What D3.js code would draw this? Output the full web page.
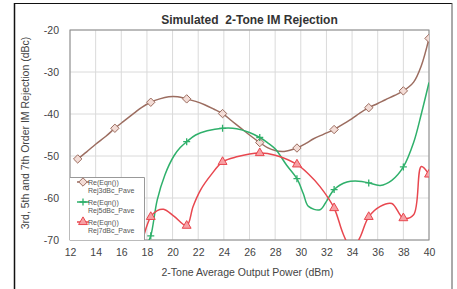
<!DOCTYPE html>
<html>
<head>
<meta charset="utf-8">
<script src="https://cdn.jsdelivr.net/npm/d3@7"></script>
<style>
  body { margin: 0; background: #fff; }
  svg { display: block; font-family: Arial, "Liberation Sans", sans-serif; }
</style>
</head>
<body>
<div id="chart"></div>
<script>
// simulated sweep (dBm, dBc)
const rej3Line = [[12.6,-50.7],[13.3,-49],[14,-47.2],[14.8,-45.3],[15.5,-43.4],[16.2,-41.7],[17,-39.8],[17.6,-38.4],[18.3,-37.2],[19,-36.4],[19.7,-35.9],[20.4,-35.9],[21.1,-36.4],[21.8,-37],[22.5,-37.8],[23.2,-38.8],[23.9,-39.9],[24.6,-41.6],[25.3,-43.3],[26,-45],[26.8,-46.8],[27.4,-48],[28,-48.7],[28.7,-48.9],[29.7,-48.1],[30.4,-47],[31,-45.9],[31.8,-44.8],[32.6,-43.7],[33.3,-42.4],[34,-41.1],[34.6,-39.8],[35.3,-38.5],[36,-37.5],[36.6,-36.6],[37.3,-35.6],[38,-34.5],[38.8,-32.4],[39.4,-28.5],[40,-22]];
const rej3Marks = [12.6,15.5,18.3,21.1,23.9,26.8,29.7,32.6,35.3,38,40];

const rej5Line = [[18,-71],[18.3,-69],[18.8,-60.5],[19.4,-54.5],[20.1,-50],[20.6,-48],[21.1,-46.6],[21.8,-45],[22.7,-44],[23.9,-43.4],[25,-43.5],[26,-44.4],[26.8,-45.6],[27.4,-46.8],[28,-48.3],[28.9,-52.2],[29.7,-55.4],[30.2,-59],[30.6,-62],[31.5,-62.8],[32,-60.8],[32.6,-58],[33.6,-56.2],[34.5,-56],[35.3,-56.4],[36.2,-57],[37.1,-55.8],[38,-52.6],[38.8,-46.8],[39.4,-40],[40,-32.5]];
const rej5Marks = [18.3,21.1,23.9,26.8,29.7,32.6,35.3,38];

const rej7Line = [[17.8,-68.5],[18.3,-64.5],[18.8,-63],[19.3,-62.7],[20.1,-64.3],[21.1,-66.6],[21.6,-62],[22.2,-58],[23,-54.5],[23.9,-51.4],[25,-50.2],[26.8,-49.3],[28,-49.8],[29.7,-52],[30.6,-54.3],[31.5,-57.3],[32.6,-62.4],[33.3,-68.5],[34,-72.5],[34.6,-69.5],[35.3,-64.5],[36.2,-62],[37.1,-61.3],[38,-64.8],[38.8,-64],[39.4,-52.5],[40,-54.4]];
const rej7Marks = [18.3,21.1,23.9,26.8,29.7,32.6,35.3,38,40];

const xTicks = d3.range(12, 41, 2);
const yTicks = [-20, -30, -40, -50, -60, -70];
const legendLines = [
  ["Re(Eqn())", "Rej3dBc_Pave"],
  ["Re(Eqn())", "Rej5dBc_Pave"],
  ["Re(Eqn())", "Rej7dBc_Pave"]
];

const W = 457, H = 289;
const plot = { left: 70, right: 429, top: 30, bottom: 240 };

const svg = d3.select("#chart").append("svg")
  .attr("width", W).attr("height", H);

// outer frame
svg.append("line").attr("x1", 14.5).attr("y1", 3).attr("x2", 14.5).attr("y2", H)
  .attr("stroke", "#111").attr("stroke-width", 1.5);
svg.append("line").attr("x1", 14).attr("y1", 3.5).attr("x2", 452).attr("y2", 3.5)
  .attr("stroke", "#111").attr("stroke-width", 1.2);
svg.append("line").attr("x1", 452).attr("y1", 3).attr("x2", 452).attr("y2", H)
  .attr("stroke", "#555").attr("stroke-width", 1);

const x = d3.scaleLinear().domain([12, 40]).range([plot.left, plot.right]);
const y = d3.scaleLinear().domain([-70, -20]).range([plot.bottom, plot.top]);

// grid
svg.append("g")
  .selectAll("line").data(xTicks).join("line")
  .attr("x1", d => x(d)).attr("x2", d => x(d))
  .attr("y1", plot.top).attr("y2", plot.bottom)
  .attr("stroke", "#dadada").attr("stroke-width", 1);
svg.append("g")
  .selectAll("line").data(yTicks).join("line")
  .attr("x1", plot.left).attr("x2", plot.right)
  .attr("y1", d => y(d)).attr("y2", d => y(d))
  .attr("stroke", "#dadada").attr("stroke-width", 1);

svg.append("rect")
  .attr("x", plot.left).attr("y", plot.top)
  .attr("width", plot.right - plot.left).attr("height", plot.bottom - plot.top)
  .attr("fill", "none").attr("stroke", "#8a8a8a").attr("stroke-width", 1);

// axes (labels only), plain hyphen minus like the original
const xAxis = svg.append("g")
  .attr("transform", `translate(0,${plot.bottom + 6})`)
  .call(d3.axisBottom(x).tickValues(xTicks).tickSize(0).tickFormat(d => String(d)));
xAxis.select(".domain").remove();
xAxis.selectAll("text").attr("font-size", 10.5).attr("fill", "#444")
  .attr("font-family", "Arial, 'Liberation Sans', sans-serif");

const yAxis = svg.append("g")
  .attr("transform", `translate(${plot.left - 8},0)`)
  .call(d3.axisLeft(y).tickValues(yTicks).tickSize(0).tickFormat(d => String(d)));
yAxis.select(".domain").remove();
yAxis.selectAll("text").attr("font-size", 10.5).attr("fill", "#444")
  .attr("font-family", "Arial, 'Liberation Sans', sans-serif");

svg.append("text")
  .attr("x", (plot.left + plot.right) / 2).attr("y", 24)
  .attr("text-anchor", "middle").attr("font-size", 12).attr("font-weight", "bold")
  .attr("fill", "#333").style("white-space", "pre")
  .text("Simulated  2-Tone IM Rejection");

svg.append("text")
  .attr("x", (plot.left + plot.right) / 2 - 2).attr("y", 276)
  .attr("text-anchor", "middle").attr("font-size", 10.5).attr("fill", "#444")
  .text("2-Tone Average Output Power (dBm)");

svg.append("text")
  .attr("transform", `translate(29,${(plot.top + plot.bottom) / 2 - 2}) rotate(-90)`)
  .attr("text-anchor", "middle").attr("font-size", 10.5).attr("fill", "#444")
  .text("3rd, 5th and 7th Order IM Rejection (dBc)");

// series
svg.append("clipPath").attr("id", "clip").append("rect")
  .attr("x", plot.left).attr("y", plot.top)
  .attr("width", plot.right - plot.left).attr("height", plot.bottom - plot.top);

const line = d3.line().x(d => x(d[0])).y(d => y(d[1])).curve(d3.curveCatmullRom);
const series = [
  { data: rej3Line, marks: rej3Marks, color: "#9c6d60", fill: "#f3dcd6", shape: d3.symbolDiamond },
  { data: rej5Line, marks: rej5Marks, color: "#2fb06b", fill: "none", shape: d3.symbolCross },
  { data: rej7Line, marks: rej7Marks, color: "#e8474f", fill: "#f7a0a4", shape: d3.symbolTriangle }
];

const g = svg.append("g").attr("clip-path", "url(#clip)");
const valueAt = (arr, xv) => arr.find(p => Math.abs(p[0] - xv) < 0.01)[1];

function drawMarker(sel, s) {
  if (s.shape === d3.symbolCross) {
    sel.append("path").attr("d", "M-3.5,0H3.5M0,-3.5V3.5")
      .attr("stroke", s.color).attr("stroke-width", 1.3).attr("fill", "none");
  } else if (s.shape === d3.symbolDiamond) {
    sel.append("path").attr("d", "M0,-4.2L4.2,0L0,4.2L-4.2,0Z")
      .attr("stroke", s.color).attr("stroke-width", 1).attr("fill", s.fill);
  } else {
    sel.append("path").attr("d", d3.symbol(s.shape, 34)())
      .attr("stroke", s.color).attr("stroke-width", 1).attr("fill", s.fill);
  }
}

series.forEach(s => {
  g.append("path").datum(s.data)
    .attr("d", line).attr("fill", "none")
    .attr("stroke", s.color).attr("stroke-width", 1.5);
});
series.forEach(s => {
  g.append("g").selectAll("g").data(s.marks).join("g")
    .attr("transform", d => `translate(${x(d)},${y(valueAt(s.data, d))})`)
    .each(function() { drawMarker(d3.select(this), s); });
});

// legend
const lg = svg.append("g");
lg.append("rect").attr("x", plot.left).attr("y", 177)
  .attr("width", 74).attr("height", plot.bottom - 177)
  .attr("fill", "#fff");
lg.append("path").attr("d", `M${plot.left},177.5H144.5V${plot.bottom}`)
  .attr("fill", "none").attr("stroke", "#999").attr("stroke-width", 1);

series.forEach((s, i) => {
  const yy = 182 + i * 20;
  lg.append("line").attr("x1", 77).attr("x2", 89).attr("y1", yy).attr("y2", yy)
    .attr("stroke", s.color).attr("stroke-width", 1.5);
  const m = lg.append("g").attr("transform", `translate(83,${yy})`);
  drawMarker(m, s);
  lg.append("text").attr("x", 88).attr("y", yy + 2.5)
    .attr("font-size", 7).attr("fill", "#555").text(legendLines[i][0]);
  lg.append("text").attr("x", 88).attr("y", yy + 10.5)
    .attr("font-size", 7).attr("fill", "#555").text(legendLines[i][1]);
});
</script>
</body>
</html>
